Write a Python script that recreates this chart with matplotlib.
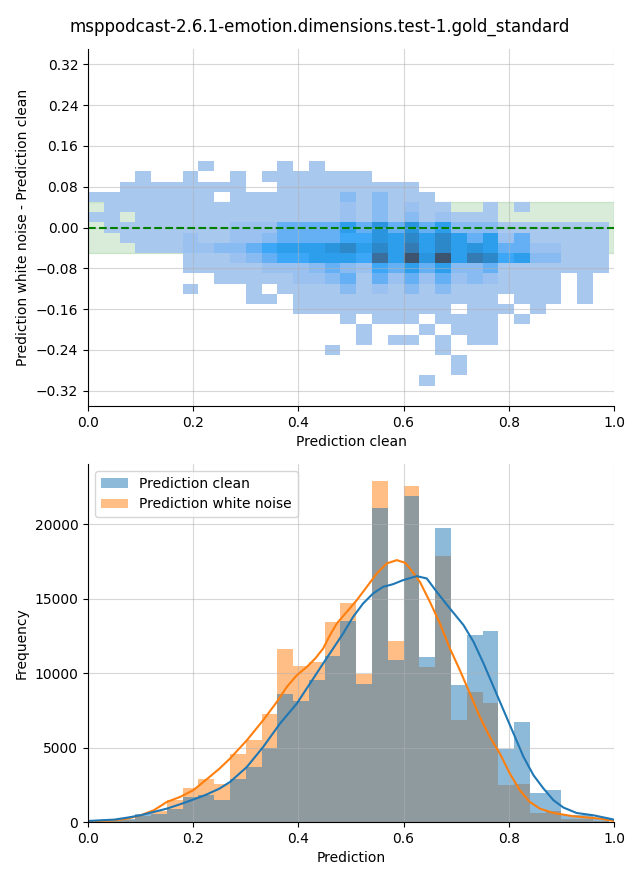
import numpy as np
import matplotlib
matplotlib.use('Agg')
import matplotlib.pyplot as plt
import seaborn as sns

title = 'msppodcast-2.6.1-emotion.dimensions.test-1.gold_standard'

# bin edges: prediction in steps of 0.03, difference in steps of 0.02
x_edges = np.linspace(0.0, 0.99, 34)
y_edges = np.linspace(-0.31, 0.13, 23)

# 2D counts (white noise - clean vs clean), rows from top (0.11..0.13) down to (-0.31..-0.29)
diff_counts = [
    [0,0,0,0,0,0,0,15,0,0,0,0,15,0,15,0,0,0,0,0,0,0,0,0,0,0,0,0,0,0,0,0,0],
    [0,0,0,15,0,0,15,0,0,15,0,15,15,15,15,15,15,15,0,0,0,0,0,0,0,0,0,0,0,0,0,0,0],
    [0,0,15,15,15,15,15,15,15,15,0,0,15,15,15,15,15,15,15,15,15,0,0,0,0,0,0,0,0,0,0,0,0],
    [15,15,15,15,15,15,15,15,0,15,15,15,15,15,15,15,130,15,130,15,15,15,0,0,0,0,0,0,0,0,0,0,0],
    [0,15,15,15,15,15,15,15,15,15,15,15,15,15,15,15,70,15,130,15,70,15,15,0,0,15,0,15,0,0,0,0,0],
    [15,15,0,15,15,15,15,15,15,15,15,15,15,15,15,15,70,15,130,15,130,15,70,15,15,15,0,0,0,0,0,0,0],
    [0,15,15,15,15,15,15,15,15,70,70,70,230,230,230,230,390,230,470,230,470,230,390,130,130,130,15,15,15,15,15,15,15],
    [0,0,15,15,15,15,70,15,15,70,70,130,230,230,230,230,310,310,470,390,570,390,570,390,230,390,70,230,15,15,15,15,15],
    [0,0,0,15,15,15,70,70,130,130,230,310,390,390,390,470,570,390,570,390,680,390,570,390,470,390,230,230,70,70,15,15,15],
    [0,0,0,0,0,0,15,15,15,70,130,230,310,310,390,390,390,310,780,390,1000,470,1000,390,680,570,310,390,130,130,15,15,15],
    [0,0,0,0,0,0,15,15,15,15,15,70,70,70,130,230,130,70,310,230,390,230,390,130,130,230,15,15,15,15,15,15,15],
    [0,0,0,0,0,0,0,0,15,15,15,15,15,70,70,130,230,15,230,70,230,70,230,70,130,70,15,15,15,15,0,15,0],
    [0,0,0,0,0,0,15,0,0,0,15,0,15,15,15,15,130,15,70,15,130,15,130,15,15,15,15,15,15,15,0,15,0],
    [0,0,0,0,0,0,0,0,0,0,15,15,0,15,15,15,15,15,15,15,15,15,15,15,15,15,0,15,15,15,0,15,0],
    [0,0,0,0,0,0,0,0,0,0,0,0,0,15,15,15,15,15,15,15,15,15,15,0,15,15,15,0,15,0,0,0,0],
    [0,0,0,0,0,0,0,0,0,0,0,0,0,0,0,0,15,0,15,15,15,0,15,15,15,15,0,15,0,0,0,0,0],
    [0,0,0,0,0,0,0,0,0,0,0,0,0,0,0,0,0,15,0,0,0,15,0,15,15,15,0,0,0,0,0,0,0],
    [0,0,0,0,0,0,0,0,0,0,0,0,0,0,0,0,0,15,0,15,15,0,15,0,15,15,0,0,0,0,0,0,0],
    [0,0,0,0,0,0,0,0,0,0,0,0,0,0,0,15,0,0,0,0,0,0,15,0,0,0,0,0,0,0,0,0,0],
    [0,0,0,0,0,0,0,0,0,0,0,0,0,0,0,0,0,0,0,0,0,0,0,15,0,0,0,0,0,0,0,0,0],
    [0,0,0,0,0,0,0,0,0,0,0,0,0,0,0,0,0,0,0,0,0,0,0,15,0,0,0,0,0,0,0,0,0],
    [0,0,0,0,0,0,0,0,0,0,0,0,0,0,0,0,0,0,0,0,0,15,0,0,0,0,0,0,0,0,0,0,0],
]

# 1D histogram counts per 0.03 bin
clean_counts = [50, 110, 230, 519, 560, 900, 1684, 1796, 1460, 2871, 3700, 4999,
                8583, 8135, 9524, 11137, 13489, 9255, 21082, 10868, 21889, 11070,
                19738, 9188, 12548, 12817, 4887, 6702, 1930, 2132, 480, 450, 200]
noise_counts = [30, 70, 160, 385, 743, 1460, 2311, 2916, 2535, 4596, 5537, 7239,
                11652, 10465, 10734, 13399, 14676, 9972, 22897, 12145, 22561, 10398,
                17857, 6836, 8718, 7978, 2468, 2535, 609, 721, 228, 228, 100]

# density curves (scaled to counts)
kde_clean_x = [0.0, 0.025, 0.05, 0.075, 0.1, 0.125, 0.15, 0.175, 0.2, 0.225, 0.25,
               0.27, 0.302, 0.333, 0.365, 0.397, 0.422, 0.447, 0.466, 0.485, 0.504,
               0.523, 0.542, 0.561, 0.58, 0.599, 0.625, 0.644, 0.663, 0.688, 0.714,
               0.733, 0.752, 0.771, 0.79, 0.809, 0.828, 0.847, 0.866, 0.885, 0.904,
               0.929, 0.961, 1.0]
kde_clean = [71, 116, 161, 295, 452, 676, 900, 1191, 1505, 1841, 2244,
             2688, 3696, 5040, 6613, 7957, 9301, 10645, 11653, 12661, 13777,
             14677, 15349, 15793, 15974, 16243, 16512, 16357, 15457, 14341, 13219,
             12097, 10645, 9073, 7507, 5941, 4368, 3138, 2245, 1458, 968,
             605, 450, 161]
kde_noise_x = [0.0, 0.025, 0.05, 0.075, 0.1, 0.125, 0.15, 0.175, 0.2, 0.225, 0.25,
               0.27, 0.302, 0.333, 0.359, 0.378, 0.397, 0.416, 0.432, 0.447, 0.46,
               0.473, 0.492, 0.511, 0.53, 0.549, 0.568, 0.587, 0.603, 0.612, 0.631,
               0.65, 0.669, 0.688, 0.707, 0.726, 0.745, 0.764, 0.783, 0.802, 0.821,
               0.84, 0.859, 0.885, 0.923, 0.973, 1.0]
kde_noise = [49, 71, 116, 228, 452, 788, 1348, 1684, 2132, 2849, 3588,
             4261, 5490, 6835, 8065, 9073, 9859, 10417, 10981, 11653, 12547,
             13333, 14113, 14899, 15793, 16693, 17365, 17587, 17406, 17030, 16129,
             14785, 13333, 11653, 10195, 8629, 7057, 5712, 4597, 3253, 2130,
             1344, 900, 605, 383, 228, 71]

fig = plt.figure(figsize=(6.4, 8.8), dpi=100)
ax1 = fig.add_axes([0.1375, 0.5386, 0.8219, 0.4057])
ax2 = fig.add_axes([0.1375, 0.0659, 0.8219, 0.4068])
fig.suptitle(title)

# --- top: difference vs clean prediction
xc = (x_edges[:-1] + x_edges[1:]) / 2
yc = ((y_edges[:-1] + y_edges[1:]) / 2)[::-1]
px, py, pw = [], [], []
for i, row in enumerate(diff_counts):
    for j, c in enumerate(row):
        if c > 0:
            px.append(xc[j])
            py.append(yc[i])
            pw.append(c)

ax1.axhspan(-0.05, 0.05, color='green', alpha=0.15, zorder=0)
sns.histplot(x=px, y=py, weights=pw, bins=[x_edges, y_edges], ax=ax1)
ax1.axhline(0, color='green', linestyle='--')
ax1.set_xlim(0, 1)
ax1.set_ylim(-0.35, 0.35)
ax1.set_yticks(np.round(np.linspace(-0.32, 0.32, 9), 2))
ax1.set_xlabel('Prediction clean')
ax1.set_ylabel('Prediction white noise - Prediction clean')
ax1.grid(True, alpha=0.5)

# --- bottom: distributions
b_noise = ax2.bar(x_edges[:-1], noise_counts, width=0.03, align='edge',
                  color='C1', alpha=0.5, linewidth=0, label='Prediction white noise')
b_clean = ax2.bar(x_edges[:-1], clean_counts, width=0.03, align='edge',
                  color='C0', alpha=0.5, linewidth=0, label='Prediction clean')
ax2.plot(kde_noise_x, kde_noise, color='C1', lw=1.5)
ax2.plot(kde_clean_x, kde_clean, color='C0', lw=1.5)
ax2.set_xlim(0, 1)
ax2.set_xlabel('Prediction')
ax2.set_ylabel('Frequency')
ax2.grid(True, alpha=0.5)
ax2.legend(handles=[b_clean, b_noise], loc='upper left')

sns.despine(fig)
fig.savefig('out.png', dpi=100)
